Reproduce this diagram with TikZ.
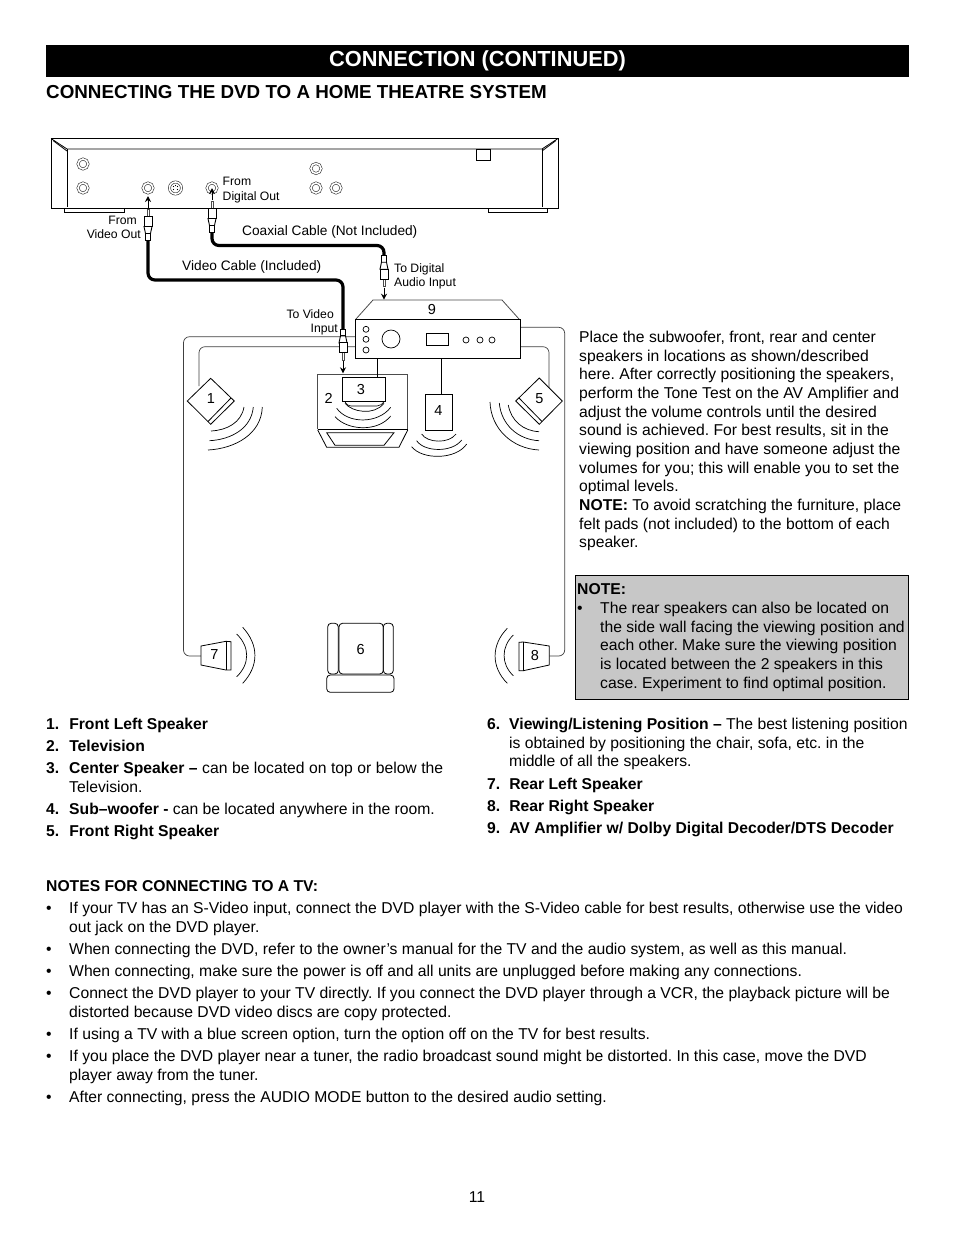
\documentclass[tikz,border=0pt]{standalone}
\usepackage{fontspec}
\setmainfont{Liberation Sans}
\usetikzlibrary{arrows.meta,shapes.geometric}
\newcommand{\bodyf}{\fontsize{15.7bp}{18.65bp}\selectfont\frenchspacing}
\newcommand{\labf}{\fontsize{13.7bp}{16bp}\selectfont}
\newcommand{\smallf}{\fontsize{12.2bp}{14.6bp}\selectfont}
\newcommand{\numf}{\fontsize{14.5bp}{16bp}\selectfont}
\newcommand{\linestrut}{\rule[-5.2bp]{0pt}{18.7bp}}
% plug: #1 name, #2 junction with the cable, #3 yscale (1 = plug runs downward, -1 upward)
\newcommand{\plugat}[3]{%
 \begin{scope}[shift={(#2)},yscale=#3]
  \draw[stem] (-1.2,23) rectangle (1.2,30.5);
  \draw[plugline] (-2.5,0) rectangle (2.5,6.5);
  \draw[plugline,fill=white] (-2.5,6.5) -- (-4,13.5) -- (4,13.5) -- (2.5,6.5) -- cycle;
  \draw[plugline,fill=white] (-4,13.5) rectangle (4,23.5);
  \coordinate (#1a) at (0,32);
  \coordinate (#1b) at (0,44);
  \draw[plugarrow] (#1a) -- (#1b);
 \end{scope}}
\tikzset{
 x=1bp,y=-1bp,
 line/.style={draw=black,line width=0.8bp},
 thin line/.style={draw=black,line width=0.6bp},
 wire/.style={draw=black!75,line width=0.7bp,rounded corners=6bp},
 wave/.style={draw=black,line width=0.7bp},
 cable/.style={draw=black,line width=3.2bp,rounded corners=7bp},
 stem/.style={draw=black!70,line width=0.5bp,fill=white},
 plugline/.style={draw=black,line width=0.9bp,fill=white},
 plugarrow/.style={draw=black,line width=1bp,-{Stealth[length=6bp,width=6bp]}},
 jack/.style={circle,draw=black!80,line width=0.6bp,double=white,double distance=1.6bp,minimum size=10bp,inner sep=0},
 knob/.style={circle,draw=black,line width=0.7bp,minimum size=#1,inner sep=0},
 body/.style={font=\bodyf,align=left,inner sep=0,anchor=north west,execute at begin node={\linestrut}},
 bold body/.style={body,font=\bodyf\bfseries},
 lab/.style={font=\labf,inner sep=0},
 small lab/.style={font=\smallf,inner sep=0,align=left},
 num/.style={font=\numf,inner sep=0},
}
\begin{document}
\begin{tikzpicture}
\useasboundingbox (0,0) rectangle (954,1235);
\fill[white] (0,0) rectangle (954,1235);
% title
\node[fill=black,minimum width=863bp,minimum height=32bp,inner sep=0,text=white,font=\fontsize{21.8bp}{24bp}\selectfont\bfseries] (title) at (477.5,61) {CONNECTION (CONTINUED)};
\node[inner sep=0,anchor=west,font=\fontsize{18.8bp}{22bp}\selectfont\bfseries] (heading) at (46,92) {CONNECTING THE DVD TO A HOME THEATRE SYSTEM};
% DVD player
\draw[line] (64,208.5) |- (124,212.8) -- (124,208.5);
\draw[line] (488,208.5) |- (547,212.8) -- (547,208.5);
\draw[line,line width=1bp] (51,138.5) rectangle (558,208.5);
\draw[line] (51,138.5) -- (67,149) -- (542,149) -- (558,138.5);
\draw[line] (53,140.5) -- (67,151);
\draw[line] (556,140.5) -- (542,151);
\draw[line] (67,149) -- (67,207);
\draw[line] (542,149) -- (542,207);
\node[line,draw,minimum width=14bp,minimum height=11bp,inner sep=0] (dvdbox) at (483.5,155) {};
\node[jack] (j1) at (83,164) {};
\node[jack] (j2) at (83,188) {};
\node[jack] (j3) at (148,188) {};
\node[jack,minimum size=12bp] (j4) at (175.5,188) {};
\foreach \dx/\dy in {-2/-1.5,2/-1.5,-2/1.5,2/1.5,0/-2.5}
  \fill (175.5+\dx,188+\dy) circle (0.7bp);
\node[jack] (j5) at (212,188) {};
\node[jack] (j6) at (316,168.5) {};
\node[jack] (j7) at (316,188) {};
\node[jack] (j8) at (336,188) {};
% cable end points
\coordinate (vidTop) at (148,240);
\coordinate (vidMid) at (250,280);
\coordinate (vidBot) at (343,329.3);
\coordinate (coaxTop) at (212,232);
\coordinate (coaxMid) at (300,245.5);
\coordinate (coaxBot) at (384,255.7);
\draw[cable] (vidTop) |- (vidMid) -| (vidBot);
\draw[cable] (coaxTop) |- (coaxMid) -| (coaxBot);
\plugat{pa}{vidTop}{-1}
\plugat{pb}{coaxTop}{-1}
\plugat{pc}{coaxBot}{1}
% wires behind the amplifier
\coordinate (ampLa) at (355,336.7);
\coordinate (ampLb) at (355,346.7);
\coordinate (ampRa) at (520,327.3);
\coordinate (ampRb) at (520,346.7);
\coordinate (rearL) at (183.5,656);
\coordinate (rearR) at (564.7,656);
\coordinate (frontL) at (199,386);
\coordinate (frontR) at (549,388);
\coordinate (sp7in) at (201,656);
\coordinate (sp8in) at (549.3,656);
\draw[wire] (ampLa) -| (rearL) -- (sp7in);
\draw[wire] (ampLb) -| (frontL);
\draw[wire] (ampRa) -| (rearR) -- (sp8in);
\draw[wire] (ampRb) -| (frontR);
% amplifier
\draw[line,draw=black!70] (356,319) -- (373,300) -- (502,300) -- (519,319);
\node[line,draw,fill=white,minimum width=165bp,minimum height=39bp,inner sep=0] (amp) at (437.5,338.5) {};
\node[num] (n9) at (432,310) {9};
\node[knob=6bp] (b1) at (366,329.3) {};
\node[knob=6bp] (b2) at (366,339.3) {};
\node[knob=6bp] (b3) at (366,350) {};
\node[knob=18bp] (bigknob) at (391,339) {};
\node[line,draw,minimum width=22bp,minimum height=12bp,inner sep=0] (display) at (437,339) {};
\node[knob=6bp] (b4) at (466,340) {};
\node[knob=6bp] (b5) at (480,340) {};
\node[knob=6bp] (b6) at (492,340) {};
\plugat{pd}{vidBot}{1}
% speaker 1
\draw[line,fill=white] (210.7,378.3) -- (234.3,401) -- (210.7,424.3) -- (187.3,401) -- cycle;
\draw[line] (231,398) -- (208,421.5);
\node[num] (n1) at (211,399) {1};
\draw[wave] (211,431) to[out=3,in=-100] (244,407);
\draw[wave] (209.5,440.7) to[out=3,in=-95] (253.3,407);
\draw[wave] (208,450) to[out=3,in=-92] (262.3,407);
% speaker 5
\draw[line,fill=white] (539.3,378) -- (562.3,401) -- (539.3,424.3) -- (515.7,401) -- cycle;
\draw[line] (519,398) -- (542,421.5);
\node[num] (n5) at (539.5,399) {5};
\draw[wave] (539,431.7) to[out=177,in=-80] (508.3,405);
\draw[wave] (539,440.7) to[out=177,in=-85] (499.3,403);
\draw[wave] (539,450) to[out=177,in=-88] (490,402);
% television and centre speaker
\draw[line,draw=black!70] (317.7,429) -- (317.7,374) -- (407.7,374) -- (407.7,429);
\draw[line] (317.7,429) -- (407.7,429);
\draw[line] (317.7,430) -- (326.7,447.3) -- (399,447.3) -- (407.7,430);
\draw[line] (326.7,432.7) -- (335,445.3) -- (384,445.3) -- (394,432.7) -- cycle;
\node[num] (n2) at (328.7,398.3) {2};
\node[line,draw,fill=white,minimum width=43bp,minimum height=23.7bp,inner sep=0] (sp3) at (364.2,389.2) {};
\node[num] (n3) at (361,389.3) {3};
\coordinate (amp3) at (377.3,358);
\coordinate (in3) at (377.3,377.3);
\draw[thin line] (amp3) -- (in3);
\draw[line width=1.4bp] (343,401.5) -- (385.5,401.5);
\draw[thin line] (345,402) .. controls (347,405) and (349,406) .. (351,406) -- (377,406) .. controls (380,406) and (382,404) .. (384,402);
\draw[wave] (345,403.3) .. controls (352,412) and (374,416) .. (384,403.3);
\draw[wave] (336.7,408.3) .. controls (348,424) and (378,424) .. (390.7,407.3);
\draw[wave] (335,416.7) .. controls (348,431) and (378,432) .. (390.7,416);
% subwoofer
\node[line,draw,minimum width=27bp,minimum height=36bp,inner sep=0] (sp4) at (439.2,412.3) {};
\node[num] (n4) at (438.3,411) {4};
\coordinate (amp4) at (441.3,358);
\coordinate (in4) at (441.3,394.3);
\draw[thin line] (amp4) -- (in4);
\draw[wave] (421.7,434) .. controls (427,443) and (449,444) .. (456,434);
\draw[wave] (416.7,440.7) .. controls (424,452) and (452,453) .. (461.7,440);
\draw[wave] (411.7,446.7) .. controls (422,460) and (456,460) .. (466.7,444);
% speaker 7
\draw[line,fill=white] (201,646) -- (226,641.3) -- (231,641.7) -- (231,670) -- (226,670) -- (201,665) -- cycle;
\draw[line] (226,641.3) -- (226,670);
\node[num] (n7) at (214.3,655) {7};
\draw[wave] (236.7,634) .. controls (250,647) and (250,664) .. (236.7,676.7);
\draw[wave] (242.7,627.3) .. controls (259,645) and (259,666) .. (242.7,683.3);
% speaker 8
\draw[line,fill=white] (549.3,646) -- (523.3,642) -- (519,642.3) -- (519,670.7) -- (523.3,670.7) -- (549.3,665) -- cycle;
\draw[line] (523.3,642) -- (523.3,670.7);
\node[num] (n8) at (535,655) {8};
\draw[wave] (513.3,635) .. controls (501,647) and (501,664) .. (513.3,675.7);
\draw[wave] (507.3,628.3) .. controls (491,645) and (491,667) .. (507.3,683.3);
% chair
\draw[line,rounded corners=3.5bp] (327.7,623.3) rectangle (338.3,674);
\draw[line,rounded corners=3.5bp] (383.3,623.3) rectangle (393.3,674);
\draw[line,rounded corners=3.5bp] (339,623.3) rectangle (383.3,674);
\draw[line,rounded corners=3.5bp] (326.7,675) rectangle (394,692.3);
\node[num] (n6) at (360.7,649) {6};
% cable labels
\node[lab,anchor=west] (coaxlab) at (242,231.5) {Coaxial Cable (Not Included)};
\node[lab,anchor=west] (vidlab) at (182,266.5) {Video Cable (Included)};
\node[small lab,anchor=north west] (fromdig) at (222.5,177.3) {From\\Digital Out};
\node[small lab,anchor=north east,align=right] (fromvid) at (141,215.5) {From\hspace*{4bp}\\Video Out};
\node[small lab,anchor=north west] (todig) at (394,263) {To Digital\\Audio Input};
\node[small lab,anchor=north east,align=right] (tovid) at (338,309) {To Video\hspace*{4bp}\\Input};
% right paragraph
\node[body] (para) at (579,331) {Place the subwoofer, front, rear and center\\
speakers in locations as shown/described\\
here. After correctly positioning the speakers,\\
perform the Tone Test on the AV Amplifier and\\
adjust the volume controls until the desired\\
sound is achieved. For best results, sit in the\\
viewing position and have someone adjust the\\
volumes for you; this will enable you to set the\\
optimal levels.\\
\textbf{NOTE:} To avoid scratching the furniture, place\\
felt pads (not included) to the bottom of each\\
speaker.};
% note box
\node[draw=black,line width=0.6bp,fill=black!22,minimum width=333bp,minimum height=124.5bp,inner sep=0] (notebox) at (742,637.5) {};
\node[bold body] (notehead) at (577,581) {NOTE:};
\node[body] (notebul) at (577,600) {•};
\node[body] (notetext) at (600,602) {The rear speakers can also be located on\\
the side wall facing the viewing position and\\
each other. Make sure the viewing position\\
is located between the 2 speakers in this\\
case. Experiment to find optimal position.};
% left list
\node[bold body] (l1) at (46,716) {1.\hspace{10bp}Front Left Speaker};
\node[bold body] (l2) at (46,738) {2.\hspace{10bp}Television};
\node[bold body] (l3n) at (46,760) {3.};
\node[body] (l3) at (69,762) {\makebox[374bp][s]{\textbf{Center Speaker –} can be located on top or below the}\\Television.};
\node[bold body] (l4n) at (46,801) {4.};
\node[body] (l4) at (69,801) {\textbf{Sub–woofer -} can be located anywhere in the room.};
\node[bold body] (l5) at (46,823) {5.\hspace{10bp}Front Right Speaker};
% right list
\node[bold body] (r6n) at (487,716) {6.};
\node[body] (r6) at (509,718) {\textbf{Viewing/Listening Position –} The best listening position\\is obtained by positioning the chair, sofa, etc. in the\\middle of all the speakers.};
\node[bold body] (r7) at (487,776) {7.\hspace{9bp}Rear Left Speaker};
\node[bold body] (r8) at (487,798) {8.\hspace{9bp}Rear Right Speaker};
\node[bold body] (r9) at (487,820) {9.\hspace{9bp}AV Amplifier w/ Dolby Digital Decoder/DTS Decoder};
% notes for connecting
\node[bold body] (nh) at (46,878) {NOTES FOR CONNECTING TO A TV:};
\foreach \yy/\nm in {900/a,941/b,963/c,985/d,1026/e,1048/f,1089/g}
  \node[body] (bul\nm) at (46,\yy) {•};
\node[body] (na) at (69,902) {If your TV has an S-Video input, connect the DVD player with the S-Video cable for best results, otherwise use the video\\out jack on the DVD player.};
\node[body] (nb) at (69,941) {When connecting the DVD, refer to the owner’s manual for the TV and the audio system, as well as this manual.};
\node[body] (nc) at (69,963) {When connecting, make sure the power is off and all units are unplugged before making any connections.};
\node[body] (nd) at (69,987) {Connect the DVD player to your TV directly. If you connect the DVD player through a VCR, the playback picture will be\\distorted because DVD video discs are copy protected.};
\node[body] (ne) at (69,1026) {If using a TV with a blue screen option, turn the option off on the TV for best results.};
\node[body] (nf) at (69,1050) {If you place the DVD player near a tuner, the radio broadcast sound might be distorted. In this case, move the DVD\\player away from the tuner.};
\node[body] (ng) at (69,1089) {After connecting, press the AUDIO MODE button to the desired audio setting.};
\node[body,anchor=north] (page) at (477,1189) {11};
\end{tikzpicture}
\end{document}
